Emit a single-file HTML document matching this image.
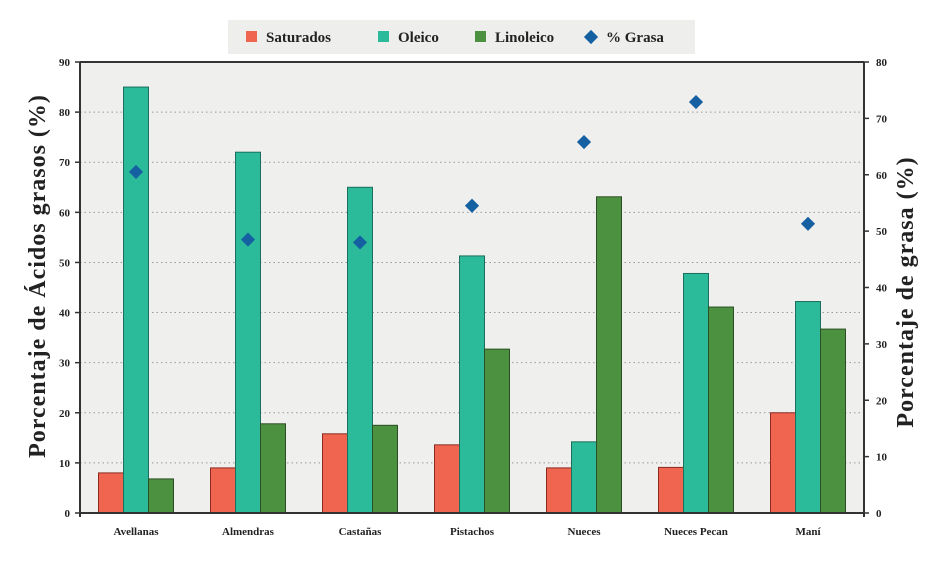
<!DOCTYPE html>
<html><head><meta charset="utf-8"><style>
body{margin:0;background:#fff;}
svg{display:block;font-family:"Liberation Serif",serif;}
</style></head><body>
<svg id="c" width="935" height="564">
<rect x="228" y="20" width="467" height="34" fill="#eeeeec"/>
<g id="legend"></g>
<rect x="80" y="62" width="784" height="451" fill="#efefed"/>
<g id="grid"></g><g id="bars"></g><g id="axes"></g>
<text transform="translate(45,276) rotate(-90)" text-anchor="middle" font-size="24" font-weight="bold" letter-spacing="1" fill="#222">Porcentaje de Ácidos grasos (%)</text>
<text transform="translate(913,292) rotate(-90)" text-anchor="middle" font-size="24" font-weight="bold" letter-spacing="1" fill="#222">Porcentaje de grasa (%)</text>
</svg>
<script>
const categories=["Avellanas","Almendras","Castañas","Pistachos","Nueces","Nueces Pecan","Maní"];
const saturados=[8,9,15.8,13.6,9,9.1,20];
const oleico=[85,72,65,51.3,14.2,47.8,42.2];
const linoleico=[6.8,17.8,17.5,32.7,63.1,41.1,36.7];
const grasa=[60.5,48.5,48,54.5,65.8,72.9,51.3];
const leftTicks=[0,10,20,30,40,50,60,70,80,90];
const rightTicks=[0,10,20,30,40,50,60,70,80];
const NS="http://www.w3.org/2000/svg";
const X0=80,X1=864,Y0=513,Y1=62;
const yL=v=>Y0-(v/90)*(Y0-Y1);
const yR=v=>Y0-(v/80)*(Y0-Y1);
const band=(X1-X0)/categories.length;
const xc=i=>X0+band*(i+0.5);
function mk(tag,attrs,parent,txt){const e=document.createElementNS(NS,tag);for(const k in attrs)e.setAttribute(k,attrs[k]);if(txt!==undefined)e.textContent=txt;document.getElementById(parent).appendChild(e);return e;}
leftTicks.forEach(t=>{
  if(t>0&&t<90){const g=mk('line',{x1:X0,x2:X1,y1:yL(t),y2:yL(t),stroke:'#999','stroke-dasharray':'1.5,3','stroke-width':1},'grid');
  
  }
  mk('line',{x1:X0-5,x2:X0,y1:yL(t),y2:yL(t),stroke:'#333','stroke-width':1.5},'axes');
  const l=mk('text',{x:X0-10,y:yL(t)+4,'text-anchor':'end','font-size':11,'font-weight':'bold',fill:'#222'},'axes',t);
  
  
});
rightTicks.forEach(t=>{
  mk('line',{x1:X1,x2:X1+5,y1:yR(t),y2:yR(t),stroke:'#333','stroke-width':1.5},'axes');
  const l=mk('text',{x:X1+12,y:yR(t)+4,'font-size':11,'font-weight':'bold',fill:'#222'},'axes',t);
  
  
});
const series=[[saturados,'#f0654f','#8a2a20','saturados'],[oleico,'#2bbb9b','#1a6e5a','oleico'],[linoleico,'#4c9140','#2a4f22','linoleico']];
const bw=25;
categories.forEach((c,i)=>{
  series.forEach((s,j)=>{
    const v=s[0][i];
    const r=mk('rect',{x:xc(i)+(j-1)*bw-bw/2,y:yL(v),width:bw,height:Y0-yL(v),fill:s[1],stroke:s[2],'stroke-width':1},'bars');
    
    
  });
  const d=mk('rect',{x:-5,y:-5,width:10,height:10,fill:'#1560a0',transform:`translate(${xc(i)},${yR(grasa[i])}) rotate(45)`},'bars');
  
  
  const l=mk('text',{x:xc(i),y:535,'text-anchor':'middle','font-size':11,'font-weight':'bold',fill:'#222'},'axes',c);
  
  
});
mk('line',{x1:X0,x2:X1,y1:Y1,y2:Y1,stroke:'#333','stroke-width':2},'axes');
mk('line',{x1:X0,x2:X1,y1:Y0,y2:Y0,stroke:'#333','stroke-width':2},'axes');
mk('line',{x1:X0,x2:X0,y1:Y1,y2:Y0+4,stroke:'#333','stroke-width':2},'axes');
mk('line',{x1:X1,x2:X1,y1:Y1,y2:Y0+4,stroke:'#333','stroke-width':2},'axes');
const leg=[['Saturados','#f0654f',246,'rect'],['Oleico','#2bbb9b',378,'rect'],['Linoleico','#4c9140',475,'rect'],['% Grasa','#1560a0',586,'dia']];
leg.forEach(L=>{
  let m;
  if(L[3]==='rect')m=mk('rect',{x:L[2],y:31,width:11,height:11,fill:L[1]},'legend');
  else m=mk('rect',{x:-5,y:-5,width:10,height:10,fill:L[1],transform:`translate(${L[2]+5},37) rotate(45)`},'legend');
  
  
  const t=mk('text',{x:L[2]+20,y:42,'font-size':15,'font-weight':'bold',fill:'#222'},'legend',L[0]);
  
  
});
</script>
</body></html>
